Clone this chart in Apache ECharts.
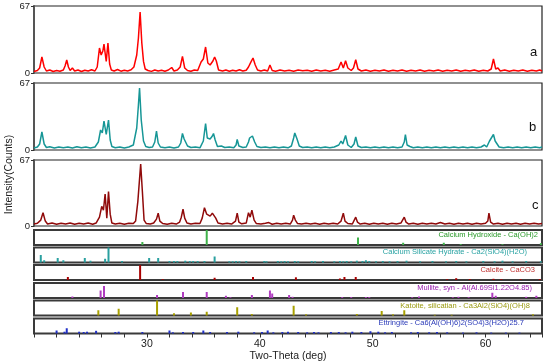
<!DOCTYPE html>
<html><head><meta charset="utf-8">
<script src="https://cdn.jsdelivr.net/npm/echarts/dist/echarts.min.js"></script>
<style>html,body{margin:0;padding:0;background:#fff}#c{width:550px;height:364px}</style>
</head><body><div id="c"></div>
<script>
// ---- data ----
const xTicks = [30, 40, 50, 60];
const yTicks = [0, 67];
const sampleNames = ['a', 'b', 'c'];
const phaseNames = [
  'Calcium Hydroxide - Ca(OH)2',
  'Calcium Silicate Hydrate - Ca2(SiO4)(H2O)',
  'Calcite - CaCO3',
  'Mullite, syn - Al(Al.69Si1.22O4.85)',
  'Katoite, silicatian - Ca3Al2(SiO4)(OH)8',
  'Ettringite - Ca6(Al(OH)6)2(SO4)3(H2O)25.7'
];
const patternA = [[20.0,1.5],[20.3,2.5],[20.5,5],[20.7,16],[20.9,6],[21.1,2],[21.4,3],[21.7,1.5],[22.0,2.5],[22.3,1.8],[22.6,3],[22.75,7],[22.9,13],[23.05,6],[23.2,2.5],[23.4,5],[23.6,2],[23.9,3],[24.2,1.5],[24.5,2.8],[24.8,2],[25.1,3.2],[25.4,2],[25.6,6],[25.8,25],[25.95,18],[26.1,22],[26.2,29],[26.3,20],[26.4,11.6],[26.55,30],[26.7,9],[26.85,3],[27.1,2],[27.4,3.5],[27.7,1.8],[28.0,2.8],[28.3,2],[28.6,3.2],[28.85,6],[29.1,18],[29.25,35],[29.4,61],[29.55,30],[29.7,11.6],[29.85,4],[30.1,2.5],[30.4,1.6],[30.7,3],[31.0,2],[31.3,2.8],[31.6,1.8],[31.9,3],[32.2,5.5],[32.4,2],[32.7,3],[32.95,6],[33.15,16.6],[33.35,5],[33.6,2.5],[33.9,1.8],[34.2,3],[34.5,2.5],[34.8,11],[35.0,14],[35.2,26],[35.4,10],[35.6,8],[35.85,12],[36.0,16],[36.15,12],[36.35,3],[36.7,2],[37.0,3],[37.3,1.8],[37.6,2.7],[37.9,2],[38.2,3.2],[38.5,2],[38.8,2.8],[39.0,6],[39.2,10.6],[39.4,15],[39.6,8],[39.8,3],[40.1,2],[40.4,3],[40.7,2],[40.9,8],[41.1,2.5],[41.4,1.8],[41.8,3],[42.2,2],[42.6,2.8],[43.0,1.8],[43.4,3],[43.8,2.2],[44.2,2.8],[44.6,1.8],[45.0,3],[45.4,2],[45.8,2.8],[46.2,1.8],[46.6,3],[46.95,4],[47.2,11],[47.4,5],[47.6,12.3],[47.8,5],[48.1,2.5],[48.3,5],[48.5,13.3],[48.7,4],[49.0,2],[49.4,3],[49.8,1.8],[50.2,2.8],[50.6,2],[51.0,3],[51.4,1.8],[51.8,2.7],[52.2,2],[52.6,3],[53.0,1.8],[53.4,2.8],[53.8,2],[54.2,3],[54.6,1.8],[55.0,2.8],[55.4,2],[55.8,3],[56.2,1.8],[56.6,2.8],[57.0,2],[57.4,3],[57.8,1.8],[58.2,2.8],[58.6,2],[59.0,3],[59.4,1.8],[59.8,2.8],[60.2,2],[60.5,4],[60.7,14],[60.9,4],[61.1,5],[61.3,2],[61.7,3],[62.1,1.8],[62.5,2.8],[62.9,2],[63.3,3],[63.7,1.8],[64.1,2.8],[64.5,2],[64.8,3],[65.0,2]];
const patternB = [[20.0,2],[20.3,3],[20.5,6],[20.7,18],[20.9,6],[21.1,2.5],[21.4,3.2],[21.8,2],[22.2,3],[22.6,2.2],[23.0,3],[23.4,2],[23.8,3.2],[24.2,2.2],[24.6,3],[25.0,2],[25.4,3],[25.7,8],[25.9,20],[26.05,17],[26.2,29],[26.4,15.5],[26.6,30],[26.75,10],[26.9,3.5],[27.2,2.2],[27.6,3],[28.0,2],[28.4,3],[28.8,5],[29.1,22],[29.25,45],[29.35,62],[29.5,30],[29.7,9],[29.9,3.5],[30.2,2.5],[30.5,3],[30.7,8],[30.85,19],[31.0,7],[31.2,3],[31.6,2.2],[32.0,3],[32.4,2],[32.8,3],[33.0,7],[33.15,16.5],[33.3,11],[33.45,10],[33.6,4],[33.9,2.5],[34.3,3],[34.7,2.2],[35.0,9],[35.2,26.5],[35.35,12],[35.6,11],[35.8,14],[35.9,16.5],[36.05,10],[36.25,3.5],[36.6,4],[36.9,2.5],[37.3,3],[37.7,2.2],[37.9,5],[38.0,10.5],[38.15,4],[38.5,2.5],[38.8,3],[39.0,8],[39.1,12],[39.35,14],[39.55,8],[39.75,3.5],[40.1,2.5],[40.5,3],[40.9,2.2],[41.3,3],[41.7,2.2],[42.1,3],[42.5,2.2],[42.8,4],[43.0,12],[43.1,17],[43.3,11],[43.5,4],[43.8,2.5],[44.2,3],[44.6,2.2],[45.0,3],[45.4,2.2],[45.8,3],[46.2,2.2],[46.6,3],[47.0,5],[47.2,9],[47.35,6],[47.6,14.5],[47.8,5],[48.1,2.5],[48.35,6],[48.5,13],[48.7,4],[49.0,2.5],[49.4,3],[49.8,2.2],[50.2,3],[50.6,2.2],[51.0,3],[51.4,2.2],[51.8,3],[52.2,2.2],[52.6,3],[52.8,8],[52.9,15.5],[53.05,5],[53.3,3.5],[53.6,2.2],[54.0,3],[54.4,2.2],[54.8,3],[55.2,2.2],[55.6,3],[56.0,2.2],[56.4,3],[56.8,2.2],[57.2,3],[57.6,2.2],[58.0,3],[58.4,2.2],[58.8,3],[59.2,2.2],[59.6,3],[59.9,5],[60.1,3],[60.35,9],[60.5,7],[60.7,15.5],[60.85,9],[61.0,8],[61.2,3],[61.6,2.2],[62.0,3],[62.4,2.2],[62.8,3],[63.2,2.2],[63.6,3],[64.0,2.2],[64.4,3],[64.8,2.2],[65.0,3]];
const patternC = [[20.0,2],[20.3,2.8],[20.6,6],[20.8,13.5],[21.0,5],[21.2,2],[21.6,3],[22.0,1.8],[22.4,2.8],[22.8,2],[23.2,3],[23.6,1.8],[24.0,2.8],[24.4,2],[24.8,3],[25.2,1.8],[25.5,3],[25.8,9],[26.0,20],[26.15,16],[26.3,32.5],[26.45,8],[26.6,35],[26.75,12],[26.9,3],[27.2,2],[27.6,2.8],[28.0,1.8],[28.4,2.8],[28.8,2.5],[29.0,5],[29.2,25],[29.45,63],[29.6,35],[29.75,6],[29.95,2.5],[30.3,2],[30.6,3],[30.85,7],[31.0,13],[31.15,5],[31.4,2.5],[31.8,1.8],[32.2,2.8],[32.6,2],[32.9,4],[33.05,9],[33.2,17],[33.35,8],[33.55,3],[33.9,2],[34.3,2.8],[34.7,2.5],[34.9,8],[35.1,18.5],[35.3,12],[35.6,10],[35.8,13],[35.95,15],[36.1,8],[36.3,3],[36.7,2],[37.1,2.8],[37.5,2],[37.85,5],[38.0,13],[38.15,4],[38.4,2.2],[38.8,3],[39.0,13.5],[39.15,9],[39.3,16],[39.5,6],[39.7,2.5],[40.1,2],[40.5,2.8],[40.8,3.5],[41.1,1.8],[41.5,2.8],[41.9,2],[42.3,2.8],[42.7,2],[42.9,6],[43.0,11],[43.15,6],[43.35,2.5],[43.7,2],[44.1,2.8],[44.5,2],[44.9,2.8],[45.3,1.8],[45.7,2.8],[46.1,2],[46.5,2.8],[46.9,2],[47.2,5],[47.4,13],[47.55,5],[47.8,2.5],[48.2,2],[48.5,9],[48.65,4],[48.9,2],[49.3,2.8],[49.7,1.8],[50.1,2.8],[50.5,2],[50.9,2.8],[51.3,1.8],[51.7,2.8],[52.1,2],[52.5,3],[52.8,9],[52.95,4],[53.2,2],[53.6,2.8],[54.0,1.8],[54.4,2.8],[54.8,2],[55.2,2.8],[55.6,2],[56.0,3.5],[56.4,2],[56.8,2.8],[57.2,1.8],[57.6,2.8],[58.0,2],[58.4,2.8],[58.8,1.8],[59.2,2.8],[59.6,2],[60.0,2.8],[60.2,5],[60.3,13],[60.45,4],[60.7,2],[61.1,2.8],[61.5,1.8],[61.9,2.8],[62.3,2],[62.7,2.8],[63.1,1.8],[63.5,2.8],[63.9,2],[64.3,2.8],[64.7,2],[65.0,2.5]];
// reference stick patterns (relative intensity 0..1)
const calciumHydroxide = [[29.6,0.2],[35.3,1.0],[48.7,0.5],[52.7,0.15],[56.3,0.15],[57.8,0.06],[61.5,0.05],[64.9,0.12]];
const calciumSilicateHydrate = [[20.6,0.5],[20.9,0.15],[22.1,0.3],[22.6,0.15],[24.5,0.3],[25.0,0.12],[26.3,0.25],[26.6,1.0],[27.8,0.1],[30.2,0.3],[31.0,0.3],[32.0,0.1],[32.4,0.1],[32.7,0.1],[33.4,0.12],[33.8,0.1],[34.1,0.1],[34.5,0.1],[35.1,0.1],[36.0,0.4],[37.3,0.08],[37.6,0.08],[37.9,0.1],[38.2,0.08],[38.8,0.1],[40.4,0.1],[40.6,0.08],[41.6,0.1],[41.9,0.08],[42.2,0.1],[42.5,0.08],[43.1,0.1],[43.4,0.08],[44.6,0.1],[44.9,0.08],[45.6,0.1],[46.6,0.08],[47.1,0.1],[47.4,0.08],[47.7,0.1],[48.1,0.08],[48.6,0.12],[49.1,0.1],[49.4,0.15],[49.7,0.1],[50.3,0.08],[50.9,0.1],[51.5,0.08],[52.2,0.1],[53.0,0.12],[54.2,0.08],[55.3,0.1],[56.5,0.08],[57.4,0.1],[58.3,0.08],[59.8,0.1],[60.8,0.08],[61.5,0.12],[62.4,0.08],[63.6,0.1],[64.9,0.08]];
const calcite = [[23.0,0.2],[29.4,1.0],[31.4,0.05],[36.0,0.15],[39.4,0.2],[43.2,0.18],[47.1,0.1],[47.5,0.2],[48.5,0.2],[56.6,0.05],[57.4,0.12],[58.6,0.06],[60.7,0.08],[61.4,0.05],[63.1,0.05],[64.8,0.06]];
const mullite = [[23.4,0.1],[25.9,0.5],[26.2,0.8],[30.9,0.2],[33.2,0.4],[35.3,0.4],[37.0,0.15],[37.4,0.05],[39.3,0.2],[40.9,0.5],[41.1,0.3],[42.6,0.2],[42.9,0.08],[47.3,0.06],[48.1,0.06],[49.4,0.06],[49.7,0.06],[53.5,0.05],[54.1,0.1],[57.1,0.05],[57.6,0.08],[58.5,0.05],[60.6,0.35],[60.9,0.15],[63.6,0.08],[64.5,0.15]];
const katoite = [[25.7,0.35],[27.5,0.45],[30.9,1.0],[32.4,0.15],[33.9,0.2],[35.3,0.25],[38.0,0.55],[39.3,0.1],[43.0,0.65],[44.1,0.08],[48.6,0.1],[50.8,0.3],[51.8,0.08],[52.8,0.35],[55.5,0.05],[57.0,0.05],[64.2,0.08]];
const ettringite = [[22.0,0.2],[22.7,0.12],[22.9,0.35],[24.0,0.12],[24.4,0.1],[24.7,0.12],[25.5,0.18],[27.2,0.1],[27.5,0.12],[29.6,0.1],[32.0,0.2],[32.3,0.08],[33.2,0.1],[34.1,0.1],[35.0,0.2],[35.6,0.1],[37.1,0.1],[38.1,0.12],[39.5,0.08],[40.2,0.1],[40.7,0.2],[41.2,0.08],[42.0,0.1],[42.5,0.12],[43.4,0.1],[44.2,0.08],[44.8,0.1],[45.2,0.08],[46.3,0.1],[47.0,0.1],[47.6,0.08],[48.2,0.12],[49.0,0.1],[49.8,0.15],[50.5,0.12],[51.1,0.08],[51.7,0.1],[53.4,0.08],[54.0,0.1],[55.0,0.08],[55.7,0.1],[56.6,0.08],[58.0,0.06],[59.2,0.08],[60.5,0.06],[61.8,0.06],[63.0,0.06]];

// ---- styles / layout ----
const patterns = [patternA, patternB, patternC];
const patternColors = ['#ff0000', '#169696', '#900a0a'];
const sticks = [calciumHydroxide, calciumSilicateHydrate, calcite, mullite, katoite, ettringite];
const stickColors = ['#3fb24a', '#2aa0a0', '#a80000', '#b03cc0', '#a8a000', '#2030c8'];
const textColors = ['#2a9a2a', '#2aa3a3', '#c03030', '#9a20b0', '#9a9a10', '#2a3ab8'];
const labelRight = [538, 527, 535, 532, 530, 524];
const labelY = [235.5, 253.3, 270.7, 289, 306.7, 324.3];
const mainGeom = [[6, 67], [83, 67], [160, 66]];
const stickGeom = [[230, 15], [247.5, 15], [265, 15], [283, 15], [300.5, 15], [318.5, 15]];
const sampleLabelPos = [[534, 54], [533, 129], [536, 207]];
const FONT = 'Liberation Sans, Arial, sans-serif';

const grid = [], xAxis = [], yAxis = [], series = [], graphic = [];
mainGeom.forEach((g, i) => {
  grid.push({left: 34, right: 8, top: g[0], height: g[1], show: true, borderColor: '#222', borderWidth: 1.2});
  xAxis.push({gridIndex: i, type: 'value', min: 20, max: 65, interval: 2,
    axisLine: {show: false}, axisTick: {show: false}, axisLabel: {show: false}, splitLine: {show: false}});
  yAxis.push({gridIndex: i, type: 'value', min: yTicks[0], max: yTicks[1], interval: yTicks[1] - yTicks[0],
    axisLine: {show: true, lineStyle: {color: '#555', width: 2}},
    axisTick: {show: true, length: 3, lineStyle: {color: '#333'}},
    axisLabel: {fontSize: 9.5, color: '#222', fontFamily: FONT, margin: 4},
    splitLine: {show: false}});
  series.push({type: 'line', xAxisIndex: i, yAxisIndex: i, data: patterns[i], showSymbol: false,
    lineStyle: {color: patternColors[i], width: 1.5}, animation: false});
  graphic.push({type: 'text', left: sampleLabelPos[i][0] - 4, top: sampleLabelPos[i][1] - 8,
    style: {text: sampleNames[i], fontSize: 13, fill: '#111', fontFamily: FONT}});
});
stickGeom.forEach((g, k) => {
  const i = k + 3;
  const last = k === stickGeom.length - 1;
  grid.push({left: 34, right: 8, top: g[0], height: g[1], show: true, borderColor: '#3a3a3a', borderWidth: 2});
  xAxis.push({gridIndex: i, type: 'value', min: 20, max: 65, interval: 2,
    axisLine: {show: false},
    axisTick: {show: last, length: 4, lineStyle: {color: '#333', width: 1}},
    axisLabel: {show: last, fontSize: 10.5, color: '#222', fontFamily: FONT, margin: 5,
      formatter: v => xTicks.indexOf(v) >= 0 ? String(v) : ''},
    splitLine: {show: false},
    name: last ? 'Two-Theta (deg)' : '', nameLocation: 'middle', nameGap: 16,
    nameTextStyle: {fontSize: 10.5, color: '#222', fontFamily: FONT}});
  yAxis.push({gridIndex: i, type: 'value', min: 0, max: 1, show: false});
  series.push({type: 'bar', xAxisIndex: i, yAxisIndex: i, data: sticks[k], barWidth: 2,
    itemStyle: {color: stickColors[k]}, animation: false});
  graphic.push({type: 'text', right: 550 - labelRight[k], top: labelY[k] - 5,
    style: {text: phaseNames[k], fontSize: 7.5, fill: textColors[k], fontFamily: FONT}});
});
graphic.push({type: 'text', x: 9.5, y: 174.5, rotation: Math.PI / 2,
  style: {text: 'Intensity(Counts)', fontSize: 10.5, fill: '#222', fontFamily: FONT, align: 'center', verticalAlign: 'middle'}});

const chart = echarts.init(document.getElementById('c'), null, {renderer: 'canvas'});
chart.setOption({animation: false, backgroundColor: '#fff', grid, xAxis, yAxis, series, graphic});
</script></body></html>
